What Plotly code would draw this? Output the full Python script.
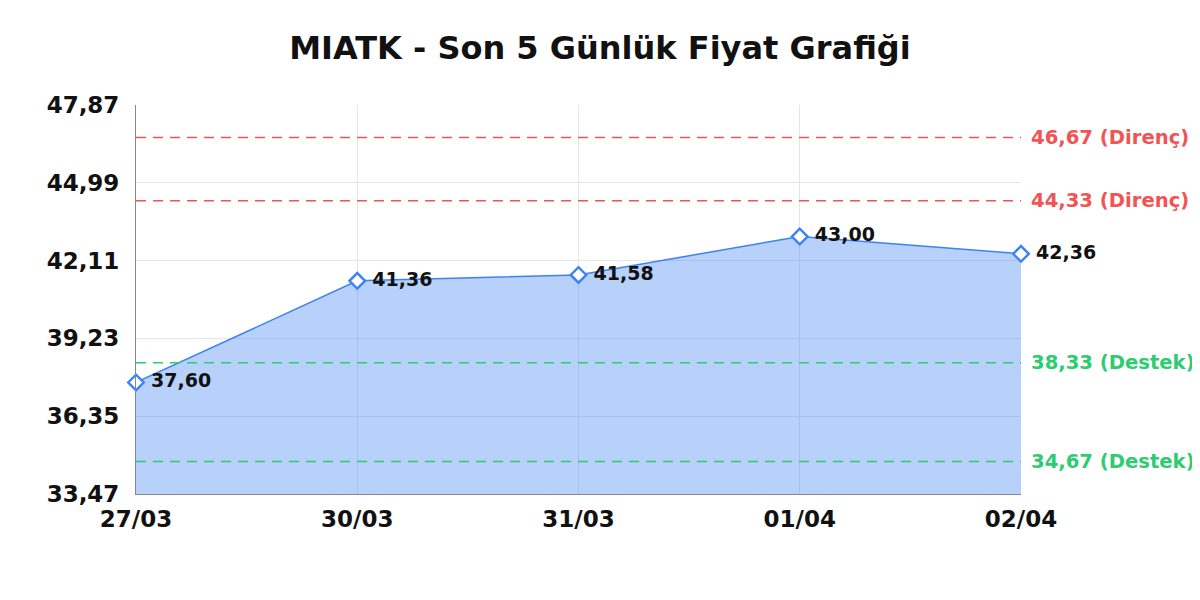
import plotly.graph_objects as go

# son 5 gunluk kapanis
dates = ["27/03", "30/03", "31/03", "01/04", "02/04"]
prices = [37.60, 41.36, 41.58, 43.00, 42.36]

y_ticks = [33.47, 36.35, 39.23, 42.11, 44.99, 47.87]
resistance = [46.67, 44.33]
support = [38.33, 34.67]

FONT = "DejaVu Sans"
RED = "#f05454"
GREEN = "#2ecc71"
BLUE = "#3d82f4"

fig = go.Figure()

fig.add_trace(go.Scatter(
    x=dates, y=prices,
    mode="lines+markers+text",
    fill="tozeroy",
    fillcolor="rgba(66,133,244,0.38)",
    line=dict(color=BLUE, width=1.5),
    marker=dict(symbol="diamond", size=12, color="white", line=dict(width=2.4, color=BLUE)),
    text=[" " + f"{p:.2f}".replace(".", ",") for p in prices],
    textposition="middle right",
    textfont=dict(family=FONT, size=19, color="#111", weight="bold"),
    cliponaxis=False,
    hoverinfo="skip",
))

for lvl, col, name in [(r, RED, "Direnç") for r in resistance] + [(s, GREEN, "Destek") for s in support]:
    fig.add_shape(type="line", xref="paper", x0=0, x1=1, yref="y", y0=lvl, y1=lvl,
                  line=dict(color=col, width=1.5, dash="10px,7px"))
    fig.add_annotation(xref="paper", x=1, xshift=8, y=lvl, yref="y",
                       text=f"{lvl:.2f}".replace(".", ",") + f" ({name})",
                       showarrow=False, xanchor="left",
                       font=dict(family=FONT, size=19.6, color=col, weight="bold"))

fig.update_layout(
    width=1200, height=600,
    margin=dict(l=128, r=187, t=97, b=114),
    paper_bgcolor="white", plot_bgcolor="white",
    separators=",.",
    showlegend=False,
    title=dict(text="MIATK - Son 5 Günlük Fiyat Grafiği", x=0.4933, xanchor="center",
               xref="container", y=0.933, yanchor="middle",
               font=dict(family=FONT, size=32, color="#111", weight="bold")),
)
fig.update_xaxes(
    type="category", range=[0, 4],
    showgrid=True, gridcolor="#e6e6e6",
    showline=True, linecolor="#888", linewidth=1,
    ticks="", ticklabelstandoff=4,
    tickfont=dict(family=FONT, size=23, color="#111", weight="bold"),
)
fig.update_yaxes(
    range=[y_ticks[0], y_ticks[-1]],
    tickvals=y_ticks, tickformat=".2f",
    showgrid=True, gridcolor="#e6e6e6", zeroline=False,
    showline=True, linecolor="#888", linewidth=1,
    ticks="", ticklabelstandoff=11,
    tickfont=dict(family=FONT, size=23, color="#111", weight="bold"),
)

fig.write_html("out.html")
